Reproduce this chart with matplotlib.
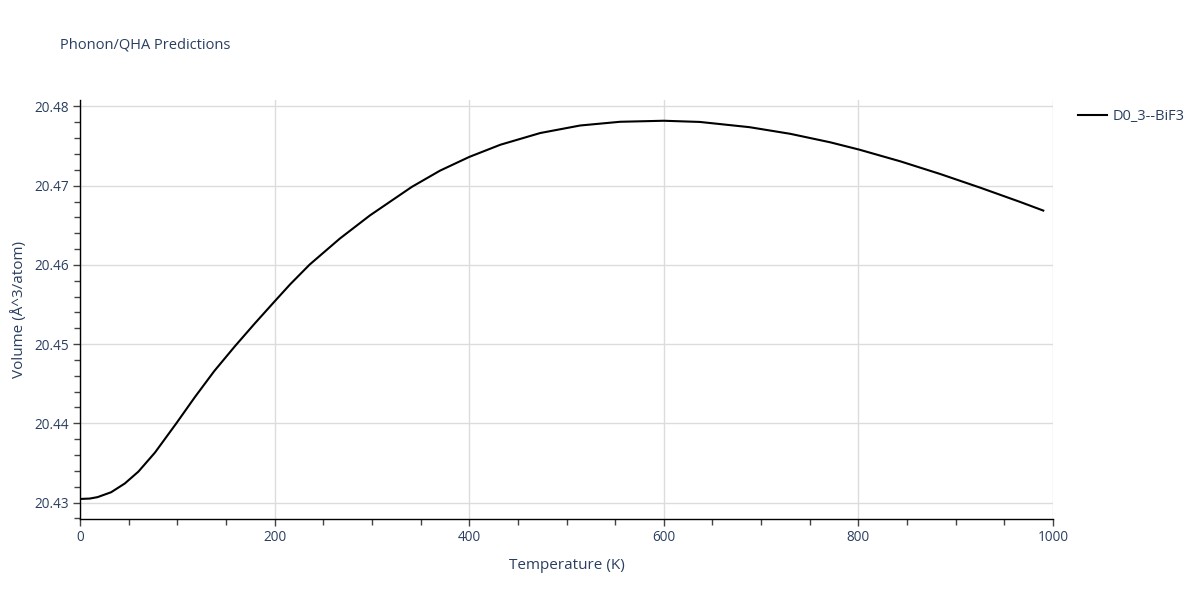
import matplotlib
matplotlib.use("Agg")
import matplotlib.pyplot as plt
from matplotlib.ticker import MultipleLocator, FormatStrFormatter

temperature = [0, 10, 18, 32, 46, 60, 77, 99, 118, 138, 159, 180, 200, 216,
               236, 267, 298, 341, 370, 400, 432, 473, 514, 555, 600, 637,
               688, 730, 771, 801, 843, 884, 925, 966, 990]
volume = [20.43045, 20.43050, 20.43068, 20.43130, 20.43240, 20.43390, 20.43630,
          20.44000, 20.44330, 20.44660, 20.44970, 20.45266, 20.45539, 20.45755,
          20.46004, 20.46332, 20.46625, 20.46985, 20.47190, 20.47363, 20.47517,
          20.47665, 20.47760, 20.47807, 20.47820, 20.47805, 20.47739, 20.47655,
          20.47548, 20.47455, 20.47308, 20.47148, 20.46976, 20.46796, 20.46686]
series_name = "D0_3--BiF3"
title = "Phonon/QHA Predictions"
x_label = "Temperature (K)"
y_label = "Volume (Å^3/atom)"

text_color = "#2a3f5f"
plt.rcParams['font.family'] = ['Open Sans', 'DejaVu Sans']

fig = plt.figure(figsize=(12, 6), dpi=100)
ax = fig.add_axes([80/1200, 1-519/600, (1053-80)/1200, (519-100)/600])

ax.plot(temperature, volume, color="black", lw=1.5, label=series_name,
        solid_joinstyle='round')

ax.set_xlim(0, 1000)
ax.set_ylim(20.42792, 20.48082)
ax.xaxis.set_major_locator(MultipleLocator(200))
ax.xaxis.set_minor_locator(MultipleLocator(50))
ax.yaxis.set_major_locator(MultipleLocator(0.01))
ax.yaxis.set_minor_locator(MultipleLocator(0.002))
ax.yaxis.set_major_formatter(FormatStrFormatter('%.2f'))

ax.grid(True, which='major', color="#dcdcdc", lw=1)
ax.set_axisbelow(True)
for s in ['top', 'right']:
    ax.spines[s].set_visible(False)
for s in ['left', 'bottom']:
    ax.spines[s].set_color('black')
    ax.spines[s].set_linewidth(1)
ax.tick_params(which='both', direction='out', color='#444444', labelcolor=text_color,
               labelsize=9.8)
ax.tick_params(which='major', length=5, width=1, pad=3)
ax.tick_params(which='minor', length=4, width=1)

ax.set_xlabel(x_label, fontsize=11, color=text_color, labelpad=9)
ax.set_ylabel(y_label, fontsize=11, color=text_color, labelpad=5)

fig.text(60/1200, 1-45/600, title, fontsize=10.5, color=text_color, va='center', ha='left')

leg = ax.legend(loc='upper left', bbox_to_anchor=(1072/1200, 1-103/600),
                bbox_transform=fig.transFigure, frameon=False, fontsize=10.5,
                handlelength=2.0, handletextpad=0.4, labelcolor=text_color,
                borderaxespad=0)

fig.savefig("out.png", dpi=100)
